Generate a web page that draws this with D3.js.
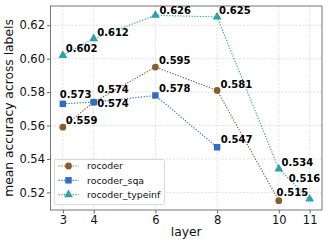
<!DOCTYPE html>
<html>
<head>
<meta charset="utf-8">
<script src="https://cdn.jsdelivr.net/npm/d3@7"></script>
<style>
  body { margin: 0; background: #fff; }
  svg { display: block; font-family: "DejaVu Sans", sans-serif; }
</style>
</head>
<body>
<div id="chart"></div>
<script>
// series values
var rocoderLayers = [3, 4, 6, 8, 10];
var rocoderVals = [0.559, 0.574, 0.595, 0.581, 0.515];
var sqaLayers = [3, 4, 6, 8];
var sqaVals = [0.573, 0.574, 0.578, 0.547];
var typeinfLayers = [3, 4, 6, 8, 10, 11];
var typeinfVals = [0.602, 0.612, 0.626, 0.625, 0.534, 0.516];

var xTicks = [3, 4, 6, 8, 10, 11];
var yTicks = [0.52, 0.54, 0.56, 0.58, 0.60, 0.62];
var seriesNames = ["rocoder", "rocoder_sqa", "rocoder_typeinf"];

// where each value label sits relative to its marker
var labelShift = [
    [[3, -3], [3.5, -9.3], [3.5, -2.8], [3.5, -2.6], [-2.3, -5]],
    [[-3, -5.4], [3.5, 5.3], [3.5, -3], [3.7, -3.8]],
    [[3, -3], [3.5, -2.4], [4, -1], [2, -2.7], [2.7, -3], [-21, -17]]
];

var width = 329, height = 247;
var margin = {left: 50.5, right: 7, top: 6, bottom: 37};
var colors = ["#8b5a2e", "#2f6cc8", "#2ba3a3"];
var shapes = [d3.symbolCircle, d3.symbolSquare, d3.symbolTriangle];
var shapeSize = [36, 42, 34];

var series = [
    {name: seriesNames[0], xs: rocoderLayers, ys: rocoderVals},
    {name: seriesNames[1], xs: sqaLayers, ys: sqaVals},
    {name: seriesNames[2], xs: typeinfLayers, ys: typeinfVals}
];

var svg = d3.select("#chart").append("svg")
    .attr("width", width)
    .attr("height", height);

var x = d3.scaleLinear().domain([2.6, 11.4]).range([margin.left, width - margin.right]);
var y = d3.scaleLinear().domain([0.50945, 0.63155]).range([height - margin.bottom, margin.top]);

// grid
svg.append("g").selectAll("line.gx")
    .data(xTicks).enter().append("line")
    .attr("x1", function (d) { return x(d); })
    .attr("x2", function (d) { return x(d); })
    .attr("y1", margin.top).attr("y2", height - margin.bottom)
    .attr("stroke", "#d9d9d9").attr("stroke-width", 0.8)
    .attr("stroke-dasharray", "2,1.5");
svg.append("g").selectAll("line.gy")
    .data(yTicks).enter().append("line")
    .attr("y1", function (d) { return y(d); })
    .attr("y2", function (d) { return y(d); })
    .attr("x1", margin.left).attr("x2", width - margin.right)
    .attr("stroke", "#d9d9d9").attr("stroke-width", 0.8)
    .attr("stroke-dasharray", "2,1.5");

// axes
var xAxis = svg.append("g")
    .attr("transform", "translate(0," + (height - margin.bottom) + ")")
    .call(d3.axisBottom(x).tickValues(xTicks).tickSize(3.5).tickPadding(2));
var yAxis = svg.append("g")
    .attr("transform", "translate(" + margin.left + ",0)")
    .call(d3.axisLeft(y).tickValues(yTicks).tickSize(3.5).tickPadding(2)
        .tickFormat(d3.format(".2f")));
[xAxis, yAxis].forEach(function (a) {
    a.select(".domain").remove();
    a.selectAll(".tick line").attr("stroke", "#666");
    a.selectAll(".tick text")
        .attr("fill", "#111")
        .style("font-size", "11.5px")
        .style("font-family", "DejaVu Sans");
});

// frame
svg.append("rect")
    .attr("x", margin.left).attr("y", margin.top)
    .attr("width", width - margin.left - margin.right)
    .attr("height", height - margin.top - margin.bottom)
    .attr("fill", "none").attr("stroke", "#777").attr("stroke-width", 1);

// lines, markers, labels
var line = d3.line()
    .x(function (d) { return x(d[0]); })
    .y(function (d) { return y(d[1]); });

series.forEach(function (s, i) {
    var pts = s.xs.map(function (v, j) { return [v, s.ys[j]]; });
    svg.append("path")
        .datum(pts)
        .attr("d", line)
        .attr("fill", "none")
        .attr("stroke", colors[i])
        .attr("stroke-width", 1.2)
        .attr("stroke-dasharray", "1.2,1.6");
    svg.append("g").selectAll("path")
        .data(pts).enter().append("path")
        .attr("d", d3.symbol().type(shapes[i]).size(shapeSize[i]))
        .attr("transform", function (d) { return "translate(" + x(d[0]) + "," + y(d[1]) + ")"; })
        .attr("fill", colors[i]);
});

series.forEach(function (s, i) {
    var pts = s.xs.map(function (v, j) { return [v, s.ys[j]]; });
    svg.append("g").selectAll("text")
        .data(pts).enter().append("text")
        .attr("x", function (d, j) { return x(d[0]) + labelShift[i][j][0]; })
        .attr("y", function (d, j) { return y(d[1]) + labelShift[i][j][1]; })
        .style("font-size", "10px")
        .style("font-weight", "bold")
        .attr("fill", "#000")
        .text(function (d) { return d3.format(".3f")(d[1]); });
});

// legend
var lg = svg.append("g");
lg.append("rect")
    .attr("x", 54.5).attr("y", 159.5)
    .attr("width", 110).attr("height", 45)
    .attr("rx", 2)
    .attr("fill", "#fff").attr("fill-opacity", 0.85)
    .attr("stroke", "#d0d0d0").attr("stroke-width", 0.8);
series.forEach(function (s, i) {
    var ly = 166 + i * 14.3;
    lg.append("line")
        .attr("x1", 58.5).attr("x2", 78.5)
        .attr("y1", ly).attr("y2", ly)
        .attr("stroke", colors[i]).attr("stroke-width", 1.2)
        .attr("stroke-dasharray", "1.2,1.6");
    lg.append("path")
        .attr("d", d3.symbol().type(shapes[i]).size(shapeSize[i]))
        .attr("transform", "translate(68.5," + ly + ")")
        .attr("fill", colors[i]);
    lg.append("text")
        .attr("x", 87).attr("y", ly + 3.4)
        .style("font-size", "9.4px")
        .attr("fill", "#111")
        .text(s.name);
});

// axis titles
svg.append("text")
    .attr("x", (margin.left + width - margin.right) / 2)
    .attr("y", 236)
    .attr("text-anchor", "middle")
    .style("font-size", "12.3px")
    .attr("fill", "#111")
    .text("layer");
svg.append("text")
    .attr("transform", "translate(13," + ((margin.top + height - margin.bottom) / 2) + ") rotate(-90)")
    .attr("text-anchor", "middle")
    .style("font-size", "12.3px")
    .attr("fill", "#111")
    .text("mean accuracy across labels");
</script>
</body>
</html>
